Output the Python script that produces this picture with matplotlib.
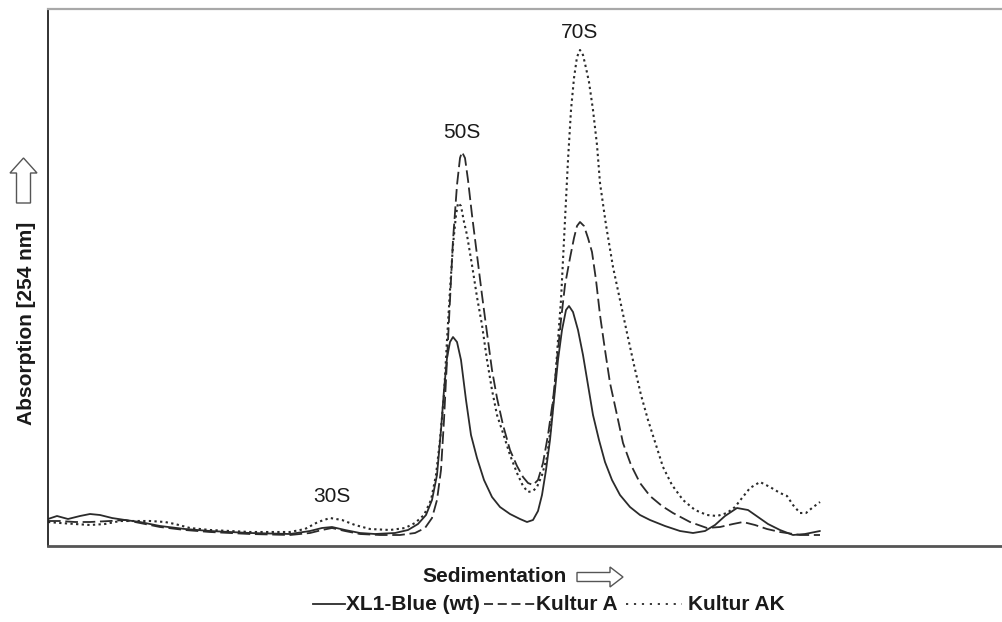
import matplotlib
matplotlib.use("Agg")
import matplotlib.pyplot as plt
from matplotlib.lines import Line2D
from matplotlib.patches import Polygon
from matplotlib.transforms import IdentityTransform

plt.rcParams['font.family'] = ['Liberation Sans', 'DejaVu Sans']

# ---- data (sedimentation position, absorption; arbitrary units) ----
xl1_x = [0, 9, 20, 32, 42, 52, 64, 77, 92, 112, 137, 162, 202, 242, 262, 274, 284, 297, 312, 327,
         347, 360, 370, 378, 384, 389, 393, 396, 399, 402, 405, 409, 413, 418, 423, 429, 436, 444,
         452, 462, 472, 479, 485, 490, 494, 498, 502, 506, 510, 514, 518, 521, 525, 530, 535, 540,
         545, 551, 557, 564, 572, 582, 592, 602, 617, 632, 645, 657, 667, 677, 689, 700, 710, 720,
         732, 745, 757, 772]
xl1_y = [27, 30, 27, 30, 32, 31, 28, 26, 24, 20, 17, 15, 13, 12, 15, 18, 19, 16, 13, 12,
         13, 16, 22, 31, 46, 71, 116, 156, 188, 204, 209, 204, 186, 146, 111, 88, 66, 49,
         39, 32, 27, 24, 26, 35, 51, 76, 106, 146, 186, 216, 236, 240, 234, 216, 191, 161,
         131, 106, 84, 66, 51, 39, 31, 26, 20, 15, 13, 15, 21, 30, 38, 36, 29, 22,
         16, 11, 12, 15]

kultur_a_x = [0, 12, 27, 42, 62, 77, 92, 112, 137, 162, 202, 242, 262, 274, 284, 297, 312, 332,
              352, 367, 377, 384, 389, 393, 396, 399, 402, 405, 409, 412, 414, 417, 420, 424, 429,
              434, 439, 444, 449, 455, 462, 469, 475, 480, 485, 490, 495, 500, 505, 509, 513, 517,
              522, 526, 529, 532, 536, 540, 544, 548, 552, 557, 562, 569, 575, 583, 592, 602, 614,
              625, 642, 659, 672, 685, 695, 707, 719, 732, 752, 772]
kultur_a_y = [25, 25, 24, 24, 25, 26, 23, 19, 16, 14, 12, 11, 13, 16, 18, 15, 12, 11,
              11, 13, 18, 28, 46, 76, 126, 186, 246, 306, 361, 388, 394, 388, 366, 331, 291,
              251, 213, 176, 148, 121, 96, 80, 69, 63, 61, 66, 83, 111, 146, 186, 226, 261,
              288, 308, 320, 324, 320, 308, 294, 266, 231, 196, 163, 131, 103, 81, 63, 50, 40,
              33, 24, 18, 19, 22, 24, 21, 17, 14, 11, 11]

kultur_ak_x = [0, 12, 27, 42, 57, 72, 87, 102, 117, 127, 142, 162, 202, 242, 257, 270, 282, 294,
               307, 322, 342, 357, 367, 376, 383, 388, 392, 396, 399, 402, 405, 408, 410, 413, 416,
               419, 424, 429, 434, 439, 444, 449, 455, 462, 469, 475, 480, 485, 489, 494, 499, 503,
               507, 510, 513, 515, 518, 520, 523, 526, 529, 532, 535, 538, 541, 545, 549, 552, 558,
               565, 572, 579, 586, 593, 600, 608, 615, 624, 635, 647, 659, 669, 679, 687, 694, 702,
               712, 722, 732, 739, 745, 752, 758, 764, 772]
kultur_ak_y = [24, 23, 22, 21, 22, 25, 25, 25, 24, 22, 18, 16, 14, 14, 17, 24, 28, 26,
               21, 17, 16, 18, 23, 31, 46, 71, 106, 151, 206, 256, 301, 331, 343, 340, 324,
               311, 281, 249, 221, 186, 156, 131, 113, 91, 73, 60, 54, 55, 59, 71, 89, 121,
               163, 206, 246, 286, 346, 386, 436, 468, 489, 496, 491, 478, 464, 436, 401, 363, 321,
               279, 246, 213, 181, 151, 126, 101, 79, 61, 46, 36, 31, 30, 33, 39, 48, 58,
               64, 59, 53, 50, 41, 33, 33, 38, 44]

peak_labels = ["30S", "50S", "70S"]
peak_x = [284, 414, 532]
peak_y = [49, 413, 513]

legend_labels = ["XL1-Blue (wt)", "Kultur A", "Kultur AK"]

# ---- figure ----
W, H = 1003, 622
fig = plt.figure(figsize=(W / 100, H / 100), dpi=100)
ax = fig.add_axes([48 / W, (H - 546) / H, 1 - 48 / W, (546 - 9) / H])

line_col = '#2b2b2b'
ax.plot(xl1_x, xl1_y, color=line_col, lw=1.3, solid_capstyle='round')
ax.plot(kultur_a_x, kultur_a_y, color=line_col, lw=1.3, dashes=(7, 2.6))
ax.plot(kultur_ak_x, kultur_ak_y, color=line_col, lw=1.5, dashes=(1.1, 1.6))

for lab, px, py in zip(peak_labels, peak_x, peak_y):
    ax.text(px, py, lab, ha='center', va='center', fontsize=15, color='#1a1a1a')

ax.set_xlim(0, W - 48)
ax.set_ylim(0, 537)
ax.set_xticks([])
ax.set_yticks([])
ax.spines['right'].set_visible(False)
ax.spines['top'].set_color('#a8a8a8')
ax.spines['top'].set_linewidth(1.6)
ax.spines['left'].set_color('#222222')
ax.spines['left'].set_linewidth(1.3)
ax.spines['bottom'].set_color('#555555')
ax.spines['bottom'].set_linewidth(2.0)

# ---- axis labels with hollow arrows (pixel coordinates, origin bottom-left) ----
ident = IdentityTransform()
fig.text(27 / W, 1 - 323 / H, "Absorption [254 nm]", rotation=90, ha='center', va='center',
         fontsize=15, fontweight='bold', color='#1a1a1a')
fig.text(495 / W, 1 - 577 / H, "Sedimentation", ha='center', va='center',
         fontsize=15, fontweight='bold', color='#1a1a1a')

def hollow_arrow(verts):
    p = Polygon(verts, closed=True, facecolor='white', edgecolor='#555555', lw=1.0,
                transform=ident)
    fig.add_artist(p)

# right arrow
cy = H - 577
hollow_arrow([(577, cy - 4.5), (610, cy - 4.5), (610, cy - 10), (623, cy), (610, cy + 10),
              (610, cy + 4.5), (577, cy + 4.5)])
# up arrow
cx = 23.5
hollow_arrow([(cx - 7, H - 203), (cx - 7, H - 173), (cx - 13.5, H - 173), (cx, H - 158),
              (cx + 13.5, H - 173), (cx + 7, H - 173), (cx + 7, H - 203)])

# ---- legend (manual, to match the short handles) ----
ly = 1 - 604 / H
handles = [((313, 345), {}), ((484, 535), {'dashes': (5, 2.6)}),
           ((626, 682), {'dashes': (1.2, 3.2)})]
text_x = [346, 536, 688]
for (xr, kw), lab, tx in zip(handles, legend_labels, text_x):
    fig.add_artist(Line2D([xr[0] / W, xr[1] / W], [ly, ly], transform=fig.transFigure,
                          color=line_col, lw=1.3, **kw))
    fig.text(tx / W, ly, lab, ha='left', va='center', fontsize=15, fontweight='bold',
             color='#1a1a1a')

fig.savefig("out.png", dpi=100)
